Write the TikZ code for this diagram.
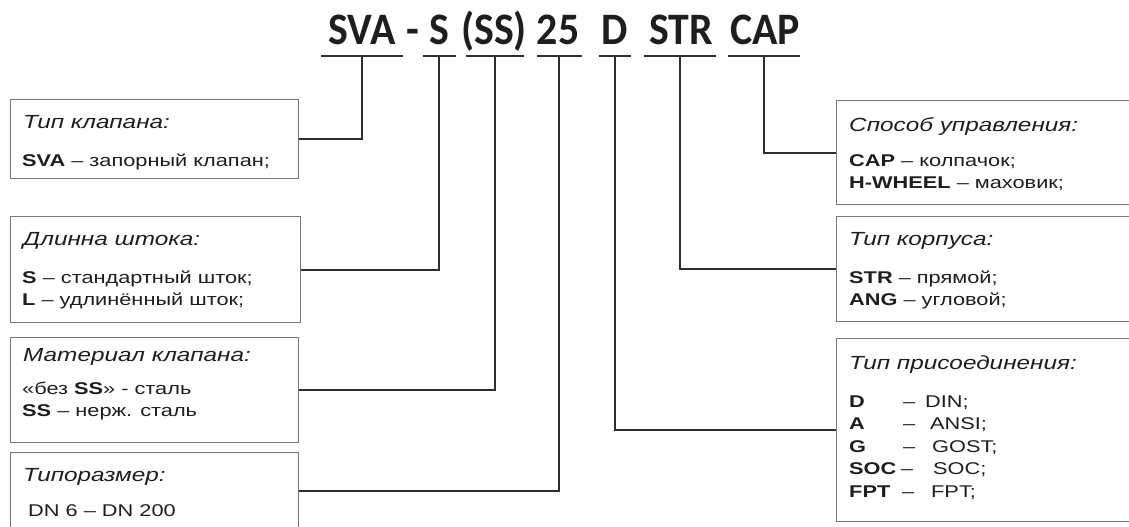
\documentclass[tikz,border=0pt]{standalone}
\usepackage{fontspec}
\setmainfont{Liberation Sans}[FakeStretch=1.28]
\newfontfamily\titlefont{Carlito}[FakeStretch=0.93]
\definecolor{textc}{HTML}{1E1E1E}
\definecolor{linec}{HTML}{2E2E2E}
\definecolor{boxc}{HTML}{7A7A7A}
\newcommand{\bodyfnt}{\fontsize{17}{22.5}\selectfont}
\newcommand{\captfnt}{\fontsize{19}{23}\selectfont\itshape}
\newcommand{\ttlfnt}{\titlefont\bfseries\fontsize{45}{50}\selectfont}
\begin{document}
\begin{tikzpicture}[x=1pt,y=-1pt,
  boxn/.style={draw=boxc, line width=1.3pt, rectangle, inner sep=0pt, anchor=north west},
  uline/.style={fill=linec, draw=none, rectangle, inner sep=0pt, minimum height=2.6pt},
  conn/.style={draw=linec, line width=1.8pt},
  ttl/.style={anchor=base, inner sep=0pt, text=textc, font=\ttlfnt},
  capt/.style={anchor=base west, inner sep=0pt, text=textc, font=\captfnt},
  bodyt/.style={anchor=base west, inner sep=0pt, text=textc, font=\bodyfnt}]
\useasboundingbox (0,0) rectangle (1129,527);
\clip (0,0) rectangle (1129,527);
\fill[white] (0,0) rectangle (1129,527);

% title
\node[ttl] (tSVA) at (362,45) {SVA};
\node[ttl] (tdash) at (413,45) {-};
\node[ttl] (tS) at (439,45) {S};
\node[ttl] (tSS) at (494,45) {(SS)};
\node[ttl] (t25) at (558,45) {25};
\node[ttl] (tD) at (615,45) {D};
\node[ttl] (tSTR) at (681,45) {STR};
\node[ttl] (tCAP) at (765,45) {CAP};

% underlines
\node[uline, minimum width=82pt] (u1) at (362,56) {};
\node[uline, minimum width=33pt] (u2) at (439,56) {};
\node[uline, minimum width=58pt] (u3) at (495,56) {};
\node[uline, minimum width=45pt] (u4) at (559,56) {};
\node[uline, minimum width=32pt] (u5) at (615,56) {};
\node[uline, minimum width=72pt] (u6) at (680,56) {};
\node[uline, minimum width=72pt] (u7) at (764,56) {};

% left boxes
\node[boxn, minimum width=288.5pt, minimum height=79pt] (b1) at (9.5,99) {};
\node[boxn, minimum width=290.5pt, minimum height=106pt] (b2) at (9.5,216) {};
\node[boxn, minimum width=288.5pt, minimum height=105pt] (b3) at (9.5,337) {};
\node[boxn, minimum width=288.5pt, minimum height=77pt] (b4) at (9.5,452) {};

% right boxes
\node[boxn, minimum width=304pt, minimum height=104pt] (r1) at (836,100) {};
\node[boxn, minimum width=304pt, minimum height=105pt] (r2) at (836,216) {};
\node[boxn, minimum width=304pt, minimum height=183pt] (r3) at (836,338) {};

% left texts
\node[capt] (b1c) at (23,128) {Тип клапана:};
\node[bodyt] (b1l1) at (22,166) {\textbf{SVA} – запорный клапан;};

\node[capt] (b2c) at (23,245) {Длинна штока:};
\node[bodyt] (b2l1) at (22,283) {\textbf{S} – стандартный шток;};
\node[bodyt] (b2l2) at (22,305.5) {\textbf{L} – удлинённый шток;};

\node[capt] (b3c) at (23,361) {Материал клапана:};
\node[bodyt] (b3l1) at (22,394) {«без \textbf{SS}» - сталь};
\node[bodyt] (b3l2) at (22,416) {\textbf{SS} – нерж. сталь};

\node[capt] (b4c) at (23,481) {Типоразмер:};
\node[bodyt] (b4l1) at (28,516) {DN 6 – DN 200};

% right texts
\node[capt] (r1c) at (849,131) {Способ управления:};
\node[bodyt] (r1l1) at (849,166) {\textbf{CAP} – колпачок;};
\node[bodyt] (r1l2) at (849,188.5) {\textbf{H-WHEEL} – маховик;};

\node[capt] (r2c) at (849,245) {Тип корпуса:};
\node[bodyt] (r2l1) at (849,283) {\textbf{STR} – прямой;};
\node[bodyt] (r2l2) at (849,305.5) {\textbf{ANG} – угловой;};

\node[capt] (r3c) at (849,369) {Тип присоединения:};
\node[bodyt] (r3l1) at (849,407) {\makebox[54pt][l]{\textbf{D}}\makebox[22pt][l]{–}DIN;};
\node[bodyt] (r3l2) at (849,429.5) {\makebox[54pt][l]{\textbf{A}}\makebox[27pt][l]{–}ANSI;};
\node[bodyt] (r3l3) at (849,452) {\makebox[54pt][l]{\textbf{G}}\makebox[29pt][l]{–}GOST;};
\node[bodyt] (r3l4) at (849,474.5) {\makebox[52pt][l]{\textbf{SOC}}\makebox[32pt][l]{–}SOC;};
\node[bodyt] (r3l5) at (849,497) {\makebox[53pt][l]{\textbf{FPT}}\makebox[29pt][l]{–}FPT;};

% connectors
\draw[conn] (b1.east) -| (u1.south);
\draw[conn] (b2.east) -| (u2.south);
\draw[conn] (b3.east) -| (u3.south);
\draw[conn] (b4.east) -| (u4.south);
\draw[conn] (r3.west) -| (u5.south);
\draw[conn] (r2.west) -| (u6.south);
\draw[conn] (r1.west) -| (u7.south);
\end{tikzpicture}
\end{document}
